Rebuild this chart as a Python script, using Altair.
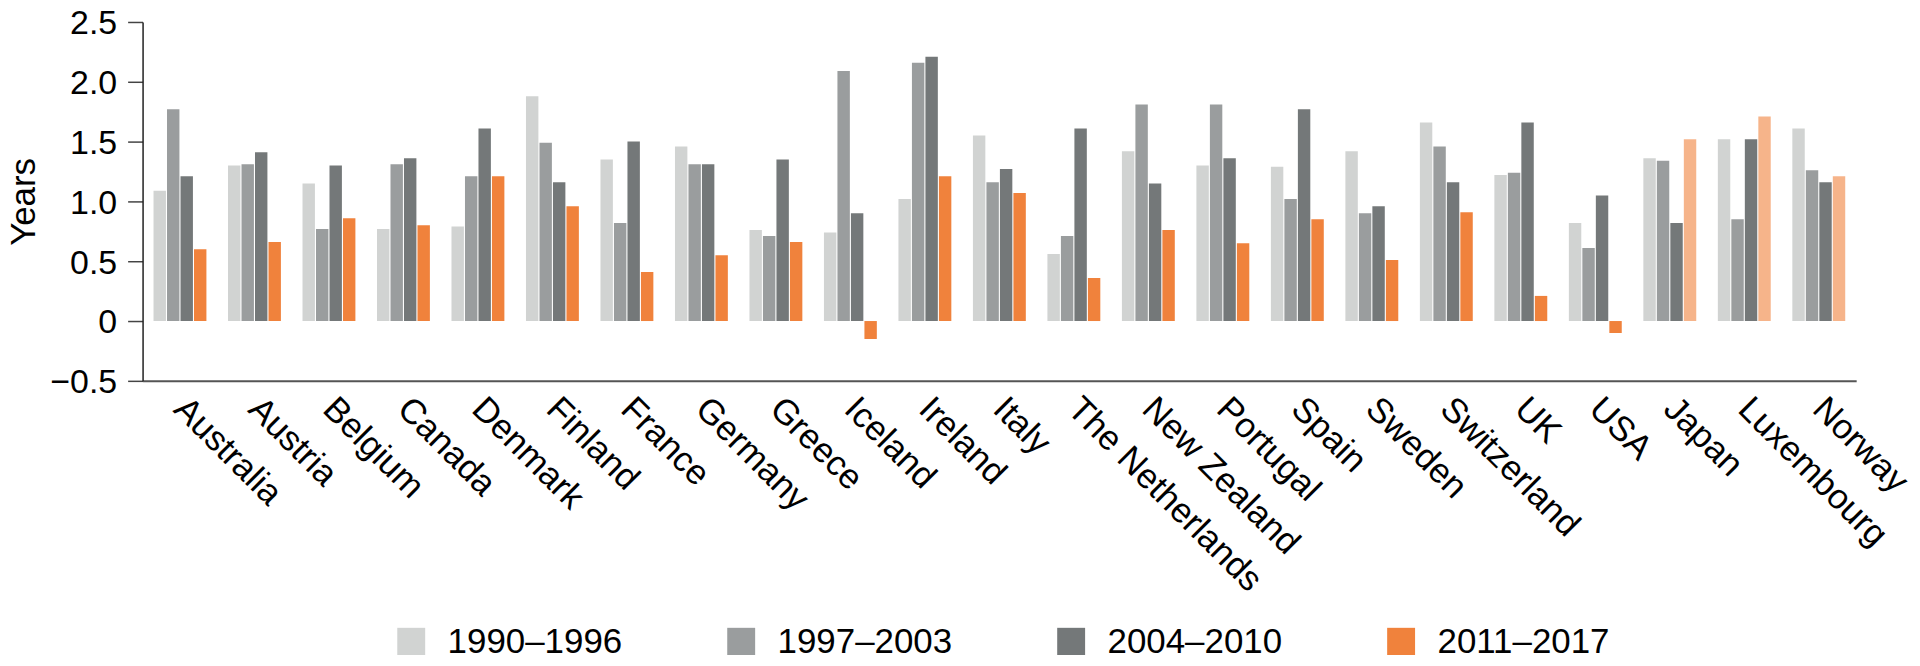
import altair as alt
import pandas as pd

countries = ["Australia", "Austria", "Belgium", "Canada", "Denmark", "Finland", "France",
             "Germany", "Greece", "Iceland", "Ireland", "Italy", "The Netherlands",
             "New Zealand", "Portugal", "Spain", "Sweden", "Switzerland", "UK", "USA",
             "Japan", "Luxembourg", "Norway"]
periods = ["1990–1996", "1997–2003", "2004–2010", "2011–2017"]

v_1990_1996 = [1.09, 1.30, 1.15, 0.77, 0.79, 1.88, 1.35, 1.46, 0.76, 0.74, 1.02, 1.55, 0.56,
               1.42, 1.30, 1.29, 1.42, 1.66, 1.22, 0.82, 1.36, 1.52, 1.61]
v_1997_2003 = [1.77, 1.31, 0.77, 1.31, 1.21, 1.49, 0.82, 1.31, 0.71, 2.09, 2.16, 1.16, 0.71,
               1.81, 1.81, 1.02, 0.90, 1.46, 1.24, 0.61, 1.34, 0.85, 1.26]
v_2004_2010 = [1.21, 1.41, 1.30, 1.36, 1.61, 1.16, 1.50, 1.31, 1.35, 0.90, 2.21, 1.27, 1.61,
               1.15, 1.36, 1.77, 0.96, 1.16, 1.66, 1.05, 0.82, 1.52, 1.16]
v_2011_2017 = [0.60, 0.66, 0.86, 0.80, 1.21, 0.96, 0.41, 0.55, 0.66, -0.15, 1.21, 1.07, 0.36,
               0.76, 0.65, 0.85, 0.51, 0.91, 0.21, -0.10, 1.52, 1.71, 1.21]
light_last = ["Japan", "Luxembourg", "Norway"]

colors = ["#D1D3D2", "#9A9D9E", "#747879", "#F0823C"]

rows = []
for series, p in zip([v_1990_1996, v_1997_2003, v_2004_2010, v_2011_2017], periods):
    for c, v in zip(countries, series):
        op = 0.6 if (p == periods[3] and c in light_last) else 1.0
        rows.append({"country": c, "period": p, "value": v, "op": op})
df = pd.DataFrame(rows)

FONT = "Liberation Sans"

chart = alt.Chart(df).mark_bar().encode(
    x=alt.X("country:N", sort=countries,
            scale=alt.Scale(paddingInner=0.29, paddingOuter=0.147),
            axis=alt.Axis(title=None, labelAngle=45, labelAlign="left", labelBaseline="middle",
                          ticks=False, tickSize=0, labelPadding=22, labelFontSize=35,
                          labelFont=FONT, labelColor="#000", domainColor="#555",
                          domainWidth=2, labelLimit=400)),
    xOffset=alt.XOffset("period:N", sort=periods, scale=alt.Scale(paddingInner=0.08)),
    y=alt.Y("value:Q", scale=alt.Scale(domain=[-0.5, 2.5], nice=False, zero=False),
            axis=alt.Axis(title="Years", values=[-0.5, 0, 0.5, 1.0, 1.5, 2.0, 2.5],
                          labelExpr="datum.value == 0 ? '0' : replace(format(datum.value, '.1f'), '-', '−')",
                          grid=False, tickSize=15, tickColor="#444", tickWidth=1.5,
                          domainColor="#222", domainWidth=1.5, labelPadding=11,
                          labelFontSize=34, labelFont=FONT, labelColor="#000",
                          labelBaseline="alphabetic", labelOffset=12,
                          titleFont=FONT, titleFontSize=35, titleFontWeight="normal",
                          titleColor="#000", titleAngle=270, titleX=-108, titleY=180,
                          titleAlign="center", titleBaseline="alphabetic")),
    color=alt.Color("period:N", sort=periods,
                    scale=alt.Scale(domain=periods, range=colors),
                    legend=alt.Legend(title=None, orient="none", direction="horizontal",
                                      columns=4, legendX=252, legendY=604,
                                      symbolType="square", symbolSize=784,
                                      symbolStrokeWidth=0, labelFontSize=35, labelFont=FONT,
                                      labelColor="#000", labelOffset=19, labelLimit=400,
                                      columnPadding=101, padding=0)),
    opacity=alt.Opacity("op:Q", scale=None),
).properties(
    width=1719, height=360,
    autosize=alt.AutoSizeParams(type="none"),
    padding={"left": 135, "top": 13, "right": 56, "bottom": 274},
).configure_view(strokeWidth=0)

chart.save("out.html", embed_options={"renderer": "svg", "actions": False})
